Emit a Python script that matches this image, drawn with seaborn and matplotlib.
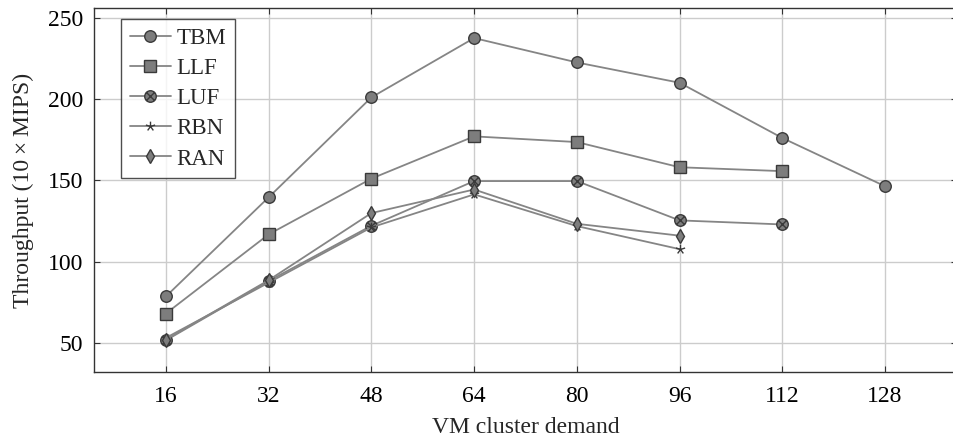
import numpy as np
import pandas as pd
import matplotlib
matplotlib.use("Agg")
import matplotlib.pyplot as plt
from matplotlib.path import Path
import seaborn as sns

# Throughput per scheduling policy vs. VM cluster demand
demand_tbm = [16, 32, 48, 64, 80, 96, 112, 128]
tbm = [78.5, 139.5, 201, 237.5, 222.5, 210, 176, 146.3]

demand_llf = [16, 32, 48, 64, 80, 96, 112]
llf = [68, 116.7, 151, 177, 173.5, 158, 155.6]

demand_luf = [16, 32, 48, 64, 80, 96, 112]
luf = [51.5, 88, 122, 149.5, 149.5, 125.3, 122.8]

demand_rbn = [16, 32, 48, 64, 80, 96]
rbn = [53, 87, 121, 141.3, 121.8, 107.6]

demand_ran = [16, 32, 48, 64, 80, 96]
ran = [52, 88.5, 129.8, 144.3, 123.2, 115.9]

x_ticks = [16, 32, 48, 64, 80, 96, 112, 128]
y_ticks = [50, 100, 150, 200, 250]

series = [
    ("TBM", demand_tbm, tbm),
    ("LLF", demand_llf, llf),
    ("LUF", demand_luf, luf),
    ("RBN", demand_rbn, rbn),
    ("RAN", demand_ran, ran),
]

frames = []
for name, xs, ys in series:
    frames.append(pd.DataFrame({"demand": xs, "throughput": ys, "policy": name}))
df = pd.concat(frames, ignore_index=True)

sns.set_theme(style="white")
plt.rcParams["font.family"] = ["Liberation Serif", "DejaVu Serif"]

# circle with a cross inside (otimes-style marker)
circ = Path.unit_circle()
r = 0.7071
cross = Path([(-r, -r), (r, r), (-r, r), (r, -r)],
             [Path.MOVETO, Path.LINETO, Path.MOVETO, Path.LINETO])
otimes = Path.make_compound_path(circ, cross)

# five-spoke asterisk
ang = np.deg2rad(90 + 72 * np.arange(5))
verts, codes = [], []
for a in ang:
    verts += [(0, 0), (np.cos(a), np.sin(a))]
    codes += [Path.MOVETO, Path.LINETO]
star = Path(verts, codes)

line_color = "#858585"
face = "#7d7d7d"
edge = "#3a3a3a"

styles = {
    "TBM": dict(marker="o", ms=8.3, mfc=face),
    "LLF": dict(marker="s", ms=8.3, mfc=face),
    "LUF": dict(marker=otimes, ms=8.3, mfc=face),
    "RBN": dict(marker=star, ms=7, mfc="none"),
    "RAN": dict(marker="d", ms=7, mfc=face),
}

fig = plt.figure(figsize=(9.54, 4.36), dpi=100)
ax = fig.add_axes([94 / 954, 64 / 436, 863 / 954, 364 / 436])

for name, _, _ in series:
    st = styles[name]
    sns.lineplot(data=df[df["policy"] == name], x="demand", y="throughput",
                 ax=ax, color=line_color, linewidth=1.3, label=name,
                 marker=st["marker"], markersize=st["ms"],
                 markerfacecolor=st["mfc"], markeredgecolor=edge,
                 markeredgewidth=1.0, errorbar=None)

ax.set_xlim(4.8, 139.2)
ax.set_ylim(32, 256)
ax.set_xticks(x_ticks)
ax.set_yticks(y_ticks)
ax.grid(True, color="#cccccc", linewidth=1.0)
ax.set_axisbelow(True)
for sp in ax.spines.values():
    sp.set_color("#333333")
    sp.set_linewidth(1.0)
ax.tick_params(direction="in", length=4, width=0.8, colors="#333333",
               labelsize=17, labelcolor="black",
               top=True, right=True, bottom=True, left=True)
ax.tick_params(axis="y", pad=8)
ax.tick_params(axis="x", pad=10)
ax.set_xlabel("VM cluster demand", fontsize=17, labelpad=7)
ax.set_ylabel("Throughput (10\u2009×\u2009MIPS)", fontsize=17, labelpad=10)

leg = ax.legend(loc="upper left", bbox_to_anchor=(0.0313, 0.97), fontsize=16.5,
                frameon=True, fancybox=False, edgecolor="#222222",
                borderpad=0.38, labelspacing=0.4, handlelength=1.8,
                handletextpad=0.25, borderaxespad=0)
leg.get_frame().set_linewidth(1.0)

fig.savefig("out.png", dpi=100)
